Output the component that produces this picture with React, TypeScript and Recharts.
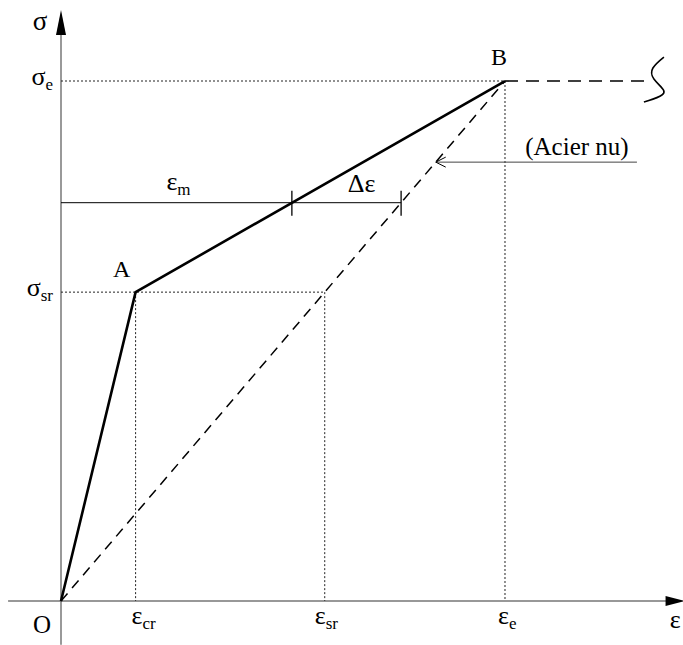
import React from "react";
import {
  ComposedChart,
  Line,
  XAxis,
  YAxis,
  ReferenceLine,
  ReferenceDot,
} from "recharts";

// strain (‰) and stress (MPa) of the characteristic points
const strainTicks = { cr: 0.42, sr: 1.485, e: 2.5 };
const stressTicks = { sr: 297, e: 500 };
const meanStress = 383;

// tension-stiffened bar: O -> A -> B
const stiffenedCurve = [
  { eps: 0, sig: 0 },
  { eps: 0.42, sig: 297 },
  { eps: 2.5, sig: 500 },
];
// bare steel (Acier nu): O -> B
const bareSteel = [
  { eps: 0, sig: 0 },
  { eps: 2.5, sig: 500 },
];
// yield plateau after B
const plateau = [
  { eps: 2.5, sig: 500 },
  { eps: 3.316, sig: 500 },
];
// horizontal at the mean stress: eps_m end, delta-eps end
const meanStrains = { m: 1.3, bare: 1.915 };
// leader pointing to the bare steel line
const leader = { tipEps: 2.11, tailEps: 3.243, sig: 422 };

const W = 683;
const H = 645;
const X_DOMAIN: [number, number] = [-0.3435, 3.5023];
const Y_DOMAIN: [number, number] = [-42.3, 577.9];

const FONT = "'Liberation Serif', 'Times New Roman', Times, serif";
const INK = "#000";
const GREEK = 26;

type Sub = { main: string; sub?: string };

const mathText =
  (t: Sub, dx: number, dy: number, anchor: "start" | "middle" | "end" = "start", size = 24) =>
  (p: any) =>
    (
      <text
        x={p.cx + dx}
        y={p.cy + dy}
        textAnchor={anchor}
        style={{ fontFamily: FONT, fontSize: size, fill: INK }}
      >
        <tspan>{t.main}</tspan>
        {t.sub && (
          <tspan style={{ fontSize: 17 }} dy={5}>
            {t.sub}
          </tspan>
        )}
      </text>
    );

const tick = (p: any) => (
  <line x1={p.cx} y1={p.cy - 12} x2={p.cx} y2={p.cy + 13} stroke={INK} strokeWidth={1.3} />
);

const arrowUp = (p: any) => (
  <polygon points={`${p.cx},${p.cy} ${p.cx - 5},${p.cy + 25} ${p.cx + 5},${p.cy + 25}`} fill={INK} />
);

const arrowRight = (p: any) => (
  <polygon points={`${p.cx + 2},${p.cy} ${p.cx - 17},${p.cy - 5} ${p.cx - 17},${p.cy + 5}`} fill={INK} />
);

const openArrowLeft = (p: any) => (
  <polyline
    points={`${p.cx + 10},${p.cy - 5} ${p.cx},${p.cy} ${p.cx + 10},${p.cy + 5}`}
    fill="none"
    stroke={INK}
    strokeWidth={1}
  />
);

const squiggle = (p: any) => (
  <path
    d={`M ${p.cx + 14} ${p.cy - 24} C ${p.cx + 4} ${p.cy - 16}, ${p.cx - 2} ${p.cy - 10}, ${p.cx + 4} ${p.cy - 2}
        C ${p.cx + 10} ${p.cy + 6}, ${p.cx + 18} ${p.cy + 10}, ${p.cx + 12} ${p.cy + 14}
        C ${p.cx + 8} ${p.cy + 17}, ${p.cx} ${p.cy + 19}, ${p.cx - 6} ${p.cy + 21}`}
    fill="none"
    stroke={INK}
    strokeWidth={1.6}
  />
);

const dotted = { stroke: "#222", strokeWidth: 1, strokeDasharray: "2 2" };

export default function App() {
  return (
    <div style={{ position: "absolute", left: 0, top: 0, background: "#fff" }}>
      <ComposedChart width={W} height={H} margin={{ top: 0, right: 0, bottom: 0, left: 0 }}>
        <XAxis type="number" dataKey="eps" domain={X_DOMAIN} allowDataOverflow hide />
        <YAxis type="number" dataKey="sig" domain={Y_DOMAIN} allowDataOverflow hide />

        {/* axes */}
        <ReferenceLine segment={[{ x: -0.298, y: 0 }, { x: 3.45, y: 0 }]} stroke="#333" strokeWidth={1.2} />
        <ReferenceLine segment={[{ x: 0, y: -42 }, { x: 0, y: 545 }]} stroke="#555" strokeWidth={1.2} />
        <ReferenceDot x={0} y={568.3} r={0} shape={arrowUp} />
        <ReferenceDot x={3.5} y={0} r={0} shape={arrowRight} />

        {/* construction lines */}
        <ReferenceLine segment={[{ x: 0, y: stressTicks.e }, { x: strainTicks.e, y: stressTicks.e }]} {...dotted} />
        <ReferenceLine segment={[{ x: strainTicks.e, y: stressTicks.e }, { x: strainTicks.e, y: 0 }]} {...dotted} />
        <ReferenceLine segment={[{ x: 0, y: stressTicks.sr }, { x: strainTicks.sr, y: stressTicks.sr }]} {...dotted} />
        <ReferenceLine segment={[{ x: strainTicks.cr, y: stressTicks.sr }, { x: strainTicks.cr, y: 0 }]} {...dotted} />
        <ReferenceLine segment={[{ x: strainTicks.sr, y: stressTicks.sr }, { x: strainTicks.sr, y: 0 }]} {...dotted} />

        {/* mean strain bar */}
        <ReferenceLine segment={[{ x: 0, y: meanStress }, { x: meanStrains.bare, y: meanStress }]} stroke={INK} strokeWidth={1} />
        <ReferenceDot x={meanStrains.m} y={meanStress} r={0} shape={tick} />
        <ReferenceDot x={meanStrains.bare} y={meanStress} r={0} shape={tick} />

        {/* leader to bare steel */}
        <ReferenceLine
          segment={[{ x: leader.tipEps, y: leader.sig }, { x: leader.tailEps, y: leader.sig }]}
          stroke="#444"
          strokeWidth={1}
        />
        <ReferenceDot x={leader.tipEps} y={leader.sig} r={0} shape={openArrowLeft} />

        {/* series */}
        <Line
          data={bareSteel}
          dataKey="sig"
          stroke={INK}
          strokeWidth={1.5}
          strokeDasharray="10 7"
          dot={false}
          activeDot={false}
          isAnimationActive={false}
          type="linear"
        />
        <Line
          data={plateau}
          dataKey="sig"
          stroke={INK}
          strokeWidth={1.6}
          strokeDasharray="13 8"
          dot={false}
          activeDot={false}
          isAnimationActive={false}
          type="linear"
        />
        <Line
          data={stiffenedCurve}
          dataKey="sig"
          stroke={INK}
          strokeWidth={2.6}
          dot={false}
          activeDot={false}
          isAnimationActive={false}
          type="linear"
        />
        <ReferenceDot x={plateau[1].eps} y={plateau[1].sig} r={0} shape={squiggle} />

        {/* labels */}
        <ReferenceDot x={0} y={568.3} r={0} shape={mathText({ main: "σ" }, -21, 20, "middle", 27)} />
        <ReferenceDot x={0} y={stressTicks.e} r={0} shape={mathText({ main: "σ", sub: "e" }, -8, 4, "end", GREEK)} />
        <ReferenceDot x={0} y={stressTicks.sr} r={0} shape={mathText({ main: "σ", sub: "sr" }, -8, 4, "end", GREEK)} />
        <ReferenceDot x={0} y={0} r={0} shape={mathText({ main: "O" }, -19, 32, "middle", 25)} />
        <ReferenceDot x={strainTicks.cr} y={0} r={0} shape={mathText({ main: "ε", sub: "cr" }, -4, 23, "start", GREEK)} />
        <ReferenceDot x={strainTicks.sr} y={0} r={0} shape={mathText({ main: "ε", sub: "sr" }, -10, 23, "start", GREEK)} />
        <ReferenceDot x={strainTicks.e} y={0} r={0} shape={mathText({ main: "ε", sub: "e" }, -7, 23, "start", GREEK)} />
        <ReferenceDot x={3.5} y={0} r={0} shape={mathText({ main: "ε" }, -2, 27, "end", GREEK)} />
        <ReferenceDot x={stiffenedCurve[1].eps} y={stiffenedCurve[1].sig} r={0} shape={mathText({ main: "A" }, -14, -15, "middle")} />
        <ReferenceDot x={stiffenedCurve[2].eps} y={stiffenedCurve[2].sig} r={0} shape={mathText({ main: "B" }, -6, -16, "middle")} />
        <ReferenceDot x={meanStrains.m / 2} y={meanStress} r={0} shape={mathText({ main: "ε", sub: "m" }, -10, -13, "start", GREEK)} />
        <ReferenceDot
          x={(meanStrains.m + meanStrains.bare) / 2}
          y={meanStress}
          r={0}
          shape={mathText({ main: "Δε" }, 15, -11, "middle", GREEK)}
        />
        <ReferenceDot x={leader.tailEps} y={leader.sig} r={0} shape={mathText({ main: "(Acier nu)" }, -60, -7, "middle", 25)} />
      </ComposedChart>
    </div>
  );
}
